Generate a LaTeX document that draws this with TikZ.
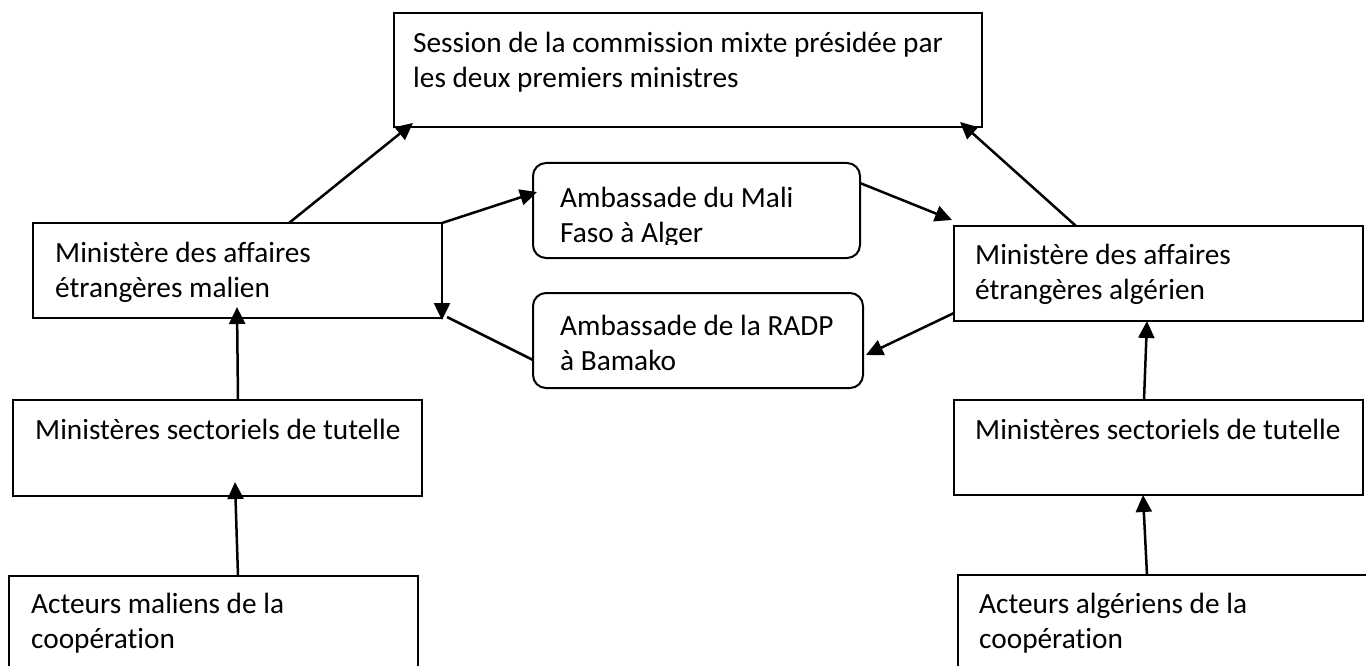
\documentclass[tikz,border=0pt]{standalone}
\usepackage{fontspec}
\setmainfont{Carlito}[Ligatures=NoCommon]
\usetikzlibrary{arrows.meta}

\tikzset{
  boite/.style={draw, line width=2pt, rectangle, anchor=north west, inner sep=0pt, outer sep=0pt},
  ronde/.style={boite, rounded corners=13pt},
  texte/.style={anchor=base west, inner sep=0pt, align=left, font=\fontsize{29.3pt}{35pt}\selectfont},
  fleche/.style={-{Triangle[length=17pt,width=16pt]}, line width=2.5pt},
}

\begin{document}
\begin{tikzpicture}[x=1pt, y=-1pt]
\path[fill=white, use as bounding box] (0,0) rectangle (1366,666);

\node[boite, minimum width=588pt, minimum height=114pt] (S)  at (394,13)  {};
\node[boite, minimum width=409pt, minimum height=95pt]  (ML) at (33,223)  {};
\node[boite, minimum width=409pt, minimum height=95pt]  (MA) at (954,226) {};
\node[ronde, minimum width=327pt, minimum height=95pt]  (EM) at (533,163) {};
\node[ronde, minimum width=330pt, minimum height=95pt]  (EA) at (533,293) {};
\node[boite, minimum width=409pt, minimum height=96pt]  (TL) at (13,400)  {};
\node[boite, minimum width=409pt, minimum height=95pt]  (TA) at (954,400) {};
\node[boite, minimum width=409pt, minimum height=120pt] (CL) at (9,576)   {};
\node[boite, minimum width=440pt, minimum height=120pt] (CA) at (958,575) {};

% textes des boites (base = derniere ligne)
\node[texte] (S-t)  at ([shift={(19pt,-75pt)}]S.north west)  {Session de la commission mixte présidée par\\les deux premiers ministres};
\node[texte] (ML-t) at ([shift={(22pt,-74pt)}]ML.north west) {Ministère des affaires\\étrangères malien};
\node[texte] (MA-t) at ([shift={(21pt,-73pt)}]MA.north west) {Ministère des affaires\\étrangères algérien};
\begin{scope}
  \clip (533,163) rectangle (860,244);
  \node[texte] (EM-t) at ([shift={(27pt,-79pt)}]EM.north west) {Ambassade du Mali\\Faso à Alger};
\end{scope}
\node[texte] (EA-t) at ([shift={(27pt,-77pt)}]EA.north west) {Ambassade de la RADP\\à Bamako};
\node[texte] (TL-t) at ([shift={(22pt,-39pt)}]TL.north west) {Ministères sectoriels de tutelle};
\node[texte] (TA-t) at ([shift={(21pt,-39pt)}]TA.north west) {Ministères sectoriels de tutelle};
\node[texte] (CL-t) at ([shift={(22pt,-72pt)}]CL.north west) {Acteurs maliens de la\\coopération};
\node[texte] (CA-t) at ([shift={(21pt,-73pt)}]CA.north west) {Acteurs algériens de la\\coopération};

\path[fleche]
    ([xshift=256pt]ML.north west) edge ([shift={(19pt,4pt)}]S.south west)
    ([xshift=122pt]MA.north west) edge ([shift={(-22pt,5pt)}]S.south east)
    (ML.north east)               edge ([shift={(4pt,-29pt)}]EM.north west)
    ([yshift=-20pt]EM.north east) edge ([shift={(-2pt,6pt)}]MA.north west)
    ([yshift=8pt]MA.south west)   edge ([shift={(3pt,-62pt)}]EA.north east)
    (ML.north east)               edge ([yshift=-2pt]ML.south east)
    ([xshift=225pt]TL.north west) edge ([shift={(204pt,11pt)}]ML.south west)
    ([xshift=229pt]CL.north west) edge ([shift={(222pt,14pt)}]TL.south west)
    ([xshift=190pt]TA.north west) edge ([xshift=193pt]MA.south west)
    ([xshift=189pt]CA.north west) edge ([xshift=189pt]TA.south west);

\draw[line width=2.5pt] ([yshift=-67pt]EA.north west) -- ([shift={(5pt,1pt)}]ML.south east);
\end{tikzpicture}
\end{document}
